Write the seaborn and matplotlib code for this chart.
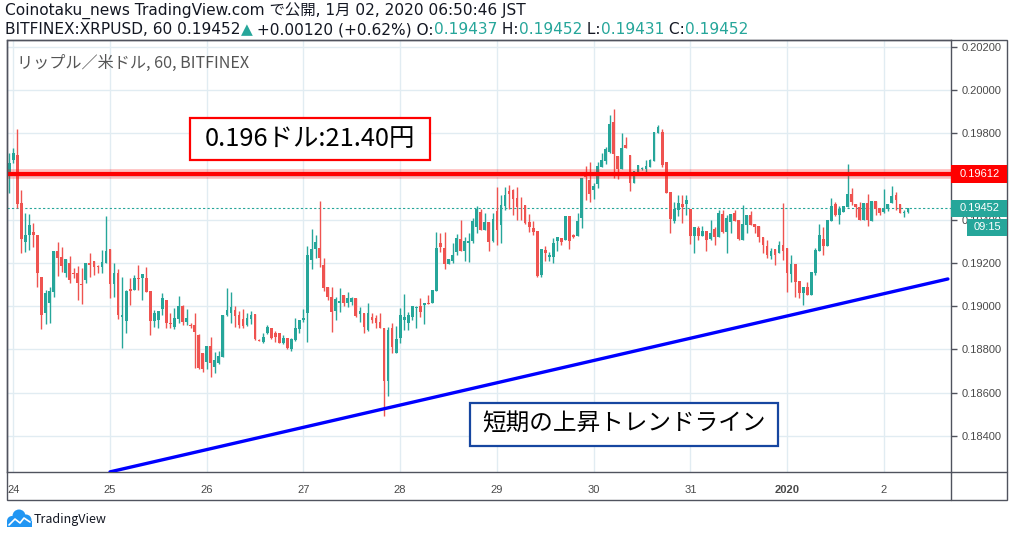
import numpy as np
import pandas as pd
import matplotlib
matplotlib.use("Agg")
import matplotlib.pyplot as plt
import matplotlib.transforms as mtransforms
from matplotlib.patches import Rectangle, Circle
from matplotlib.lines import Line2D
import seaborn as sns

# hourly XRP/USD candles (Bitfinex, JST), first one is 12/23 23:00, prices in 1e-5 USD
opens = [19612, 19676, 19699, 19476, 19299, 19330, 19343, 19330, 19135, 18967, 19014, 19067, 19256, 19229, 19152, 19199,
         19154, 19155, 19103, 19121, 19200, 19209, 19188, 19183, 19201, 19265, 19103, 19152, 18949, 18933, 19080, 19075,
         19132, 19129, 19132, 19070, 18933, 18936, 18986, 19029, 18924, 18906, 18940, 19001, 18929, 18912, 18913, 18867,
         18782, 18744, 18816, 18718, 18736, 18767, 18960, 18970, 18983, 18960, 18940, 18913, 18940, 18964, 18845, 18833,
         18875, 18898, 18878, 18875, 18829, 18852, 18801, 18844, 18896, 18936, 18967, 19214, 19265, 19271, 19191, 19088,
         19041, 18979, 19014, 19052, 19017, 19021, 19040, 18964, 18970, 18890, 18952, 18944, 18929, 18898, 18656, 18898,
         18785, 18852, 18936, 18921, 18952, 18994, 19001, 19006, 19015, 19017, 19072, 19294, 19268, 19195, 19211, 19252,
         19310, 19257, 19294, 19303, 19368, 19437, 19353, 19391, 19303, 19442, 19376, 19464, 19534, 19538, 19499, 19470,
         19468, 19391, 19363, 19348, 19145, 19260, 19229, 19229, 19303, 19314, 19306, 19417, 19330, 19325, 19409, 19601,
         19584, 19538, 19565, 19645, 19672, 19715, 19852, 19695, 19635, 19744, 19699, 19571, 19618, 19636, 19636, 19645,
         19673, 19803, 19806, 19666, 19528, 19396, 19445, 19473, 19473, 19448, 19325, 19362, 19325, 19350, 19310, 19356,
         19322, 19427, 19345, 19391, 19433, 19399, 19306, 19376, 19421, 19380, 19371, 19319, 19279, 19232, 19263, 19245,
         19283, 19268, 19149, 19195, 19117, 19063, 19091, 19052, 19155, 19257, 19310, 19279, 19396, 19473, 19421, 19436,
         19460, 19519, 19473, 19458, 19399, 19479, 19396, 19488, 19453, 19437, 19448, 19476, 19514, 19473, 19431, 19437]
highs = [19709, 19733, 19820, 19538, 19431, 19427, 19386, 19330, 19135, 19075, 19089, 19256, 19296, 19275, 19219, 19234,
         19177, 19186, 19177, 19201, 19246, 19209, 19191, 19260, 19419, 19265, 19199, 19172, 19137, 19075, 19129, 19145,
         19191, 19149, 19183, 19070, 18983, 18980, 19063, 19029, 18969, 18991, 19047, 19006, 18986, 18923, 18967, 18870,
         18784, 18816, 18856, 18790, 18795, 18960, 19083, 19067, 19001, 18979, 18986, 18967, 18979, 18964, 18848, 18875,
         18912, 18900, 18887, 18878, 18867, 18855, 18852, 18944, 18936, 18987, 19280, 19359, 19330, 19487, 19222, 19090,
         19088, 19044, 19084, 19052, 19067, 19044, 19040, 18998, 18970, 19014, 18970, 18960, 18970, 18898, 18905, 18921,
         18909, 18991, 19057, 18975, 19001, 19001, 19037, 19017, 19052, 19075, 19345, 19340, 19345, 19218, 19291, 19334,
         19399, 19319, 19337, 19407, 19464, 19448, 19430, 19391, 19430, 19550, 19514, 19550, 19561, 19541, 19550, 19507,
         19468, 19427, 19396, 19348, 19263, 19280, 19252, 19314, 19322, 19314, 19417, 19417, 19335, 19430, 19594, 19649,
         19668, 19569, 19668, 19710, 19738, 19884, 19911, 19695, 19803, 19784, 19699, 19627, 19652, 19645, 19676, 19680,
         19806, 19838, 19820, 19666, 19528, 19484, 19514, 19514, 19514, 19448, 19368, 19371, 19371, 19350, 19399, 19368,
         19445, 19445, 19422, 19427, 19443, 19399, 19468, 19422, 19442, 19380, 19371, 19319, 19306, 19268, 19263, 19303,
         19479, 19268, 19237, 19195, 19117, 19088, 19114, 19160, 19268, 19380, 19365, 19399, 19499, 19484, 19464, 19464,
         19658, 19545, 19473, 19484, 19479, 19519, 19488, 19488, 19453, 19541, 19473, 19556, 19530, 19473, 19445, 19452]
lows = [19525, 19662, 19456, 19245, 19252, 19260, 19275, 19090, 18896, 18918, 18923, 19044, 19141, 19157, 19137, 19109,
        19131, 19029, 19010, 19106, 19137, 19145, 19155, 19152, 19199, 19037, 19044, 18940, 18806, 18875, 19006, 19075,
        19075, 19029, 19067, 18867, 18905, 18899, 18960, 18898, 18898, 18893, 18924, 18913, 18913, 18899, 18713, 18708,
        18697, 18708, 18672, 18693, 18731, 18767, 18955, 18924, 18906, 18898, 18898, 18909, 18918, 18844, 18838, 18831,
        18872, 18850, 18833, 18829, 18826, 18803, 18794, 18841, 18875, 18929, 18836, 19172, 19222, 19183, 19072, 19029,
        18880, 18936, 18975, 19001, 18998, 19006, 18950, 18929, 18878, 18887, 18921, 18898, 18898, 18493, 18585, 18785,
        18785, 18829, 18890, 18890, 18936, 18901, 18949, 18918, 19008, 19017, 19072, 19252, 19171, 19194, 19202, 19237,
        19257, 19211, 19206, 19291, 19337, 19353, 19353, 19257, 19299, 19283, 19294, 19445, 19448, 19422, 19399, 19399,
        19380, 19345, 19330, 19135, 19135, 19209, 19211, 19199, 19257, 19283, 19306, 19266, 19315, 19325, 19360, 19491,
        19483, 19497, 19545, 19645, 19658, 19707, 19592, 19590, 19635, 19730, 19534, 19571, 19615, 19630, 19622, 19643,
        19673, 19800, 19645, 19525, 19337, 19386, 19417, 19384, 19422, 19288, 19248, 19306, 19325, 19257, 19306, 19283,
        19322, 19337, 19248, 19337, 19394, 19306, 19306, 19337, 19376, 19337, 19299, 19248, 19222, 19217, 19191, 19245,
        19214, 19067, 19114, 19041, 19037, 19006, 19052, 19052, 19145, 19257, 19237, 19279, 19396, 19417, 19380, 19436,
        19460, 19468, 19414, 19399, 19399, 19371, 19396, 19422, 19421, 19430, 19440, 19476, 19445, 19430, 19411, 19431]
closes = [19664, 19710, 19473, 19312, 19330, 19376, 19330, 19152, 18960, 19063, 19072, 19256, 19225, 19188, 19219, 19121,
          19149, 19109, 19098, 19199, 19191, 19183, 19180, 19203, 19256, 19103, 19152, 18960, 18960, 19072, 19070, 19132,
          19125, 19149, 19067, 18933, 18970, 18980, 19037, 18924, 18917, 18944, 19001, 18929, 18944, 18910, 18880, 18713,
          18708, 18816, 18736, 18752, 18770, 18960, 18983, 18995, 18955, 18913, 18909, 18944, 18960, 18847, 18841, 18856,
          18903, 18855, 18856, 18832, 18852, 18806, 18847, 18898, 18936, 18947, 19237, 19263, 19296, 19222, 19083, 19044,
          18975, 19032, 19026, 19014, 19037, 19040, 18955, 18978, 18906, 18967, 18936, 18924, 18898, 18656, 18890, 18813,
          18847, 18960, 18952, 18960, 19001, 18998, 18975, 19014, 19011, 19075, 19268, 19275, 19195, 19217, 19237, 19314,
          19257, 19303, 19303, 19396, 19448, 19353, 19391, 19299, 19402, 19353, 19468, 19514, 19519, 19497, 19460, 19466,
          19386, 19365, 19345, 19140, 19263, 19248, 19237, 19291, 19322, 19299, 19417, 19303, 19319, 19396, 19594, 19597,
          19519, 19556, 19649, 19676, 19726, 19843, 19704, 19635, 19730, 19733, 19571, 19627, 19652, 19639, 19649, 19676,
          19806, 19828, 19653, 19525, 19402, 19448, 19476, 19460, 19491, 19325, 19368, 19325, 19348, 19306, 19337, 19319,
          19430, 19345, 19407, 19427, 19396, 19310, 19380, 19422, 19376, 19365, 19322, 19283, 19237, 19256, 19237, 19283,
          19257, 19155, 19195, 19114, 19063, 19088, 19052, 19160, 19260, 19330, 19279, 19399, 19464, 19421, 19448, 19464,
          19519, 19484, 19458, 19399, 19479, 19399, 19488, 19448, 19430, 19453, 19473, 19510, 19491, 19430, 19437, 19452]

day_ticks = [0, 24, 48, 72, 96, 120, 144, 168, 192, 216]
day_labels = ['24', '25', '26', '27', '28', '29', '30', '31', '2020', '2']
price_ticks = [0.184, 0.186, 0.188, 0.190, 0.192, 0.194, 0.196, 0.198, 0.200, 0.202]
level_price = 0.19612
last_price = 0.19452
trend_hours = [24, 231.9]
trend_prices = [0.18234, 0.19126]

GREEN = '#26a69a'
RED = '#ef5350'
INK = '#131722'
W, H = 1014, 537

df = pd.DataFrame({'open': opens, 'high': highs, 'low': lows, 'close': closes}) / 1e5
df['hour'] = np.arange(len(df)) - 1
up = df['close'] >= df['open']
colors = np.where(up, GREEN, RED)

sns.set_theme(style="white")
plt.rcParams['font.family'] = ['Noto Sans CJK JP', 'DejaVu Sans']
HEAD_FONT = ['DejaVu Sans', 'Noto Sans CJK JP']

fig = plt.figure(figsize=(W / 100, H / 100), dpi=100)
ax = fig.add_axes([7 / W, (H - 472.3) / H, (950.7 - 7) / W, (472.3 - 40) / H])

# candles
ax.vlines(df['hour'], df['low'], df['high'], colors=colors, lw=1, zorder=3)
body = (df['close'] - df['open']).abs().clip(lower=0.00004)
ax.bar(df['hour'], body, bottom=np.minimum(df['open'], df['close']), width=0.68,
       color=colors, linewidth=0, zorder=3)

# lines
ax.axhline(level_price, color='#ff0000', lw=7, alpha=0.25, zorder=4)
ax.axhline(level_price, color='#ff0000', lw=3, zorder=4)
ax.axhline(last_price, color=GREEN, lw=0.8, ls=(0, (2, 2)), zorder=2)
sns.lineplot(x=trend_hours, y=trend_prices, ax=ax, color='#0000ff', lw=2.4, zorder=5)

ax.set_xlim(-1.56, 232.6)
ax.set_ylim(0.18232, 0.20231)
ax.set_xticks(day_ticks)
ax.set_xticklabels(day_labels)
ax.get_xticklabels()[8].set_fontweight('bold')
ax.yaxis.tick_right()
ax.set_yticks(price_ticks)
# the 0.19600 label sits fully under the red price tag
ax.set_yticklabels(['' if v == 0.196 else f'{v:.5f}' for v in price_ticks])
ax.grid(True, color='#e1ecf2', lw=1, zorder=0)
ax.tick_params(axis='both', length=4, width=1, color='#50535e', labelcolor='#4a4a4a',
               labelsize=8, direction='out')
ax.tick_params(axis='y', pad=4)
ax.tick_params(axis='x', pad=5)
for t in ax.get_xticklabels() + ax.get_yticklabels():
    t.set_family(['Liberation Sans', 'DejaVu Sans'])
for s in ax.spines.values():
    s.set_color('#50535e')
    s.set_linewidth(1)

# outer frame of the price / time scales
fig.add_artist(Rectangle((7 / W, (H - 500) / H), 1000 / W, 460 / H, fill=False,
                         ec='#50535e', lw=1, transform=fig.transFigure))
fig.add_artist(Line2D([950.7 / W, 1007 / W], [(H - 472.3) / H] * 2, color='#50535e', lw=1))
fig.add_artist(Line2D([950.7 / W] * 2, [(H - 500) / H, (H - 472.3) / H], color='#50535e', lw=1))

# price labels on the scale
lab = mtransforms.blended_transform_factory(fig.transFigure, ax.transData)
def price_tag(price, text, color, dy_px=0, x0=950.7, h_px=17.5):
    tr = lab + mtransforms.ScaledTranslation(0, -dy_px / 100, fig.dpi_scale_trans)
    hh = h_px / 21625
    fig.add_artist(Rectangle((x0 / W, price - hh / 2), (1007 - x0) / W, hh, transform=tr,
                             fc=color, ec='none', zorder=6))
    fig.text(((x0 + 1007) / 2 + 1) / W, price, text, transform=tr, color='white', fontsize=8,
             family=['Liberation Sans', 'DejaVu Sans'], ha='center', va='center', zorder=7)

price_tag(level_price, '0.19612', '#ff0000')
price_tag(last_price, '0.19452', GREEN)
price_tag(last_price, '09:15', GREEN, dy_px=19, x0=966.7)

# annotations drawn on the chart
ax.add_patch(Rectangle((43.8, 0.19676), 59.6, 0.00195, fill=True, fc='white', ec='#ff0000', lw=1.6, zorder=6))
ax.text(73.6, 0.19773, '0.196ドル:21.40円', ha='center', va='center', fontsize=18.3, color='black', zorder=7)
ax.add_patch(Rectangle((113.3, 0.18354), 76.4, 0.00199, fill=True, fc='white', ec='#1646a0', lw=1.6, zorder=6))
ax.text(151.5, 0.18453, '短期の上昇トレンドライン', ha='center', va='center', fontsize=17, color='black', zorder=7)

ax.text(10 / 943.7, 1 - 23 / 432.3, 'リップル／米ドル, 60, BITFINEX', transform=ax.transAxes,
        ha='left', va='center', fontsize=11.6, color='#555555', zorder=7)

# header, sized so each line ends where the reference does
r = fig.canvas.get_renderer()
def fit_line(pieces, y_px, x_end, base=10):
    probe = [fig.text(0, 0, s, fontsize=base, family=HEAD_FONT) for s, _ in pieces]
    width = sum(t.get_window_extent(renderer=r).width for t in probe)
    for t in probe:
        t.remove()
    size = base * (x_end - 5) / width
    x = 5
    for s, c in pieces:
        t = fig.text(x / W, 1 - y_px / H, s, ha='left', va='center', fontsize=size,
                     family=HEAD_FONT, color=c)
        x += t.get_window_extent(renderer=r).width

fit_line([('Coinotaku_news TradingView.com で公開, 1月 02, 2020 06:50:46 JST', INK)], 11, 526)
fit_line([('BITFINEX:XRPUSD, 60 0.19452', INK), ('▲', GREEN), (' +0.00120 (+0.62%) O:', INK),
          ('0.19437', GREEN), (' H:', INK), ('0.19452', GREEN), (' L:', INK),
          ('0.19431', GREEN), (' C:', INK), ('0.19452', GREEN)], 30, 750)

# TradingView mark
inch = fig.dpi_scale_trans
for cx, cy, rad in [(12, 521, 5), (19, 516, 6.5), (26, 520, 5.5)]:
    fig.add_artist(Circle((cx / 100, (H - cy) / 100), rad / 100, transform=inch, fc='#2196f3', ec='none'))
fig.add_artist(Rectangle((7 / 100, (H - 527) / 100), 25 / 100, 6 / 100, transform=inch, fc='#2196f3', ec='none'))
fig.add_artist(Line2D(np.array([9, 15, 20, 24, 30]) / 100, (H - np.array([525, 519, 523, 518, 522])) / 100,
                      transform=inch, color='white', lw=1.2))
fig.text(34 / W, 1 - 519 / H, 'TradingView', ha='left', va='center', fontsize=9, color=INK)

fig.savefig('out.png', dpi=100)
